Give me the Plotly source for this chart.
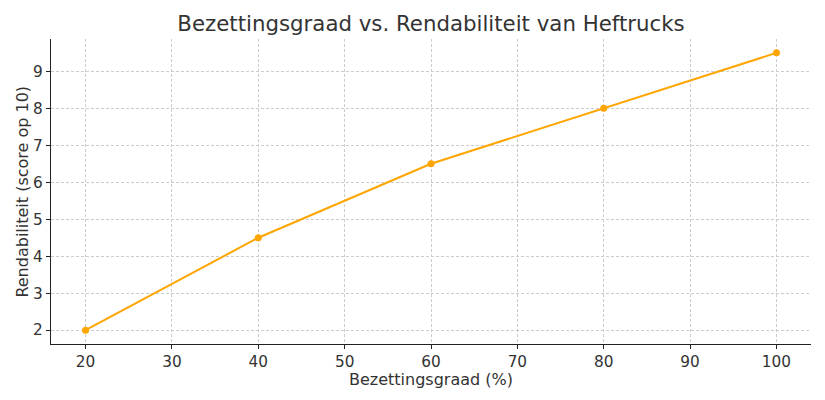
import plotly.graph_objects as go

bezetting = [20, 40, 60, 80, 100]
rendabiliteit = [2, 4.5, 6.5, 8, 9.5]
x_ticks = [20, 30, 40, 50, 60, 70, 80, 90, 100]
y_ticks = [2, 3, 4, 5, 6, 7, 8, 9]

fig = go.Figure()
fig.add_trace(go.Scatter(
    x=bezetting, y=rendabiliteit, mode="lines+markers",
    line=dict(color="#FFA500", width=2),
    marker=dict(color="#FFA500", size=7),
))

axis_common = dict(
    showgrid=True, gridcolor="#cccccc", griddash="3px,2px", gridwidth=0.8,
    showline=True, linecolor="#222222", linewidth=1.2,
    ticks="outside", ticklen=4, tickcolor="#222222", tickwidth=1,
    zeroline=False, automargin=False,
    tickfont=dict(size=15.3, color="#333333"),
)

fig.update_layout(
    width=825, height=400,
    margin=dict(l=43, r=22, t=31, b=64),
    paper_bgcolor="white", plot_bgcolor="white",
    font=dict(family="DejaVu Sans", color="#333333"),
    title=dict(text="Bezettingsgraad vs. Rendabiliteit van Heftrucks",
               x=0.5, xanchor="center", y=0.96, yanchor="middle",
               xref="paper",
               font=dict(size=21.3, color="#333333")),
    showlegend=False,
    xaxis=dict(range=[16, 104], tickvals=x_ticks, **axis_common),
    yaxis=dict(range=[1.625, 9.875], tickvals=y_ticks, **axis_common),
    annotations=[
        dict(text="Bezettingsgraad (%)", xref="paper", yref="paper",
             x=0.5, y=-0.115, xanchor="center", yanchor="middle",
             showarrow=False, font=dict(size=16, color="#333333")),
        dict(text="Rendabiliteit (score op 10)", xref="paper", yref="paper",
             x=-0.038, y=0.5, xanchor="center", yanchor="middle", textangle=-90,
             showarrow=False, font=dict(size=16, color="#333333")),
    ],
)

fig.write_html("out.html")
